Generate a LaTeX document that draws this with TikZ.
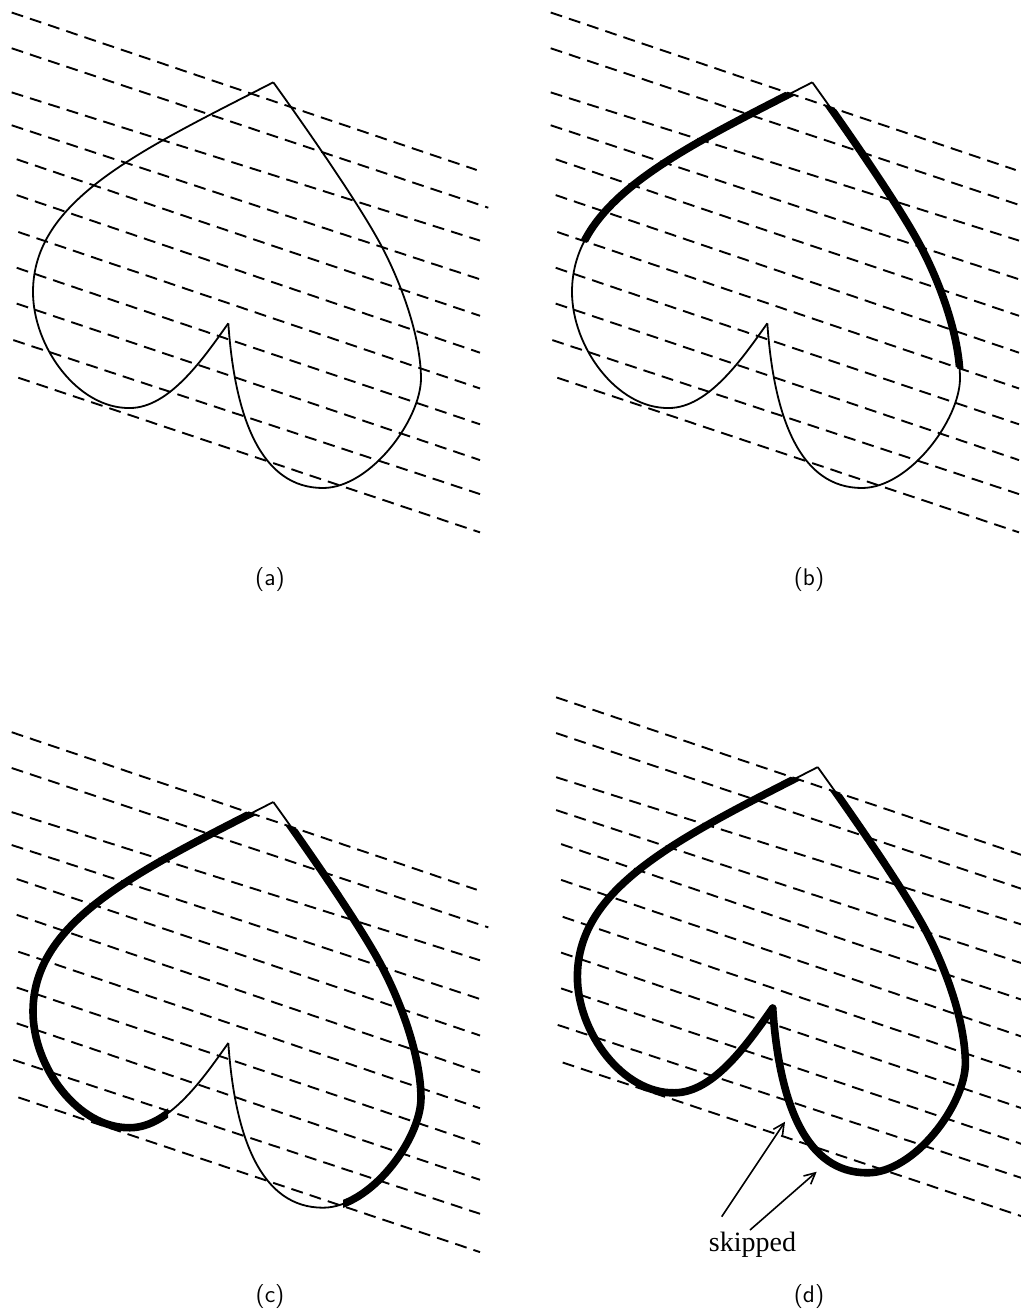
\documentclass[tikz,border=0pt]{standalone}
\usepackage{fontspec}
\newfontfamily\timesfont{Liberation Serif}
\usetikzlibrary{arrows.meta}
\tikzset{
  hatch/.style={line width=0.95pt, dash pattern=on 6pt off 3.6pt},
  outline/.style={line width=0.9pt, line join=miter},
  bold/.style={line width=3.8pt, line cap=round, line join=round},
  lab/.style={font=\sffamily\fontsize{12}{14}\selectfont, inner sep=0pt},
  pointer/.style={line width=0.8pt, -{Straight Barb[length=5.5pt,width=5.5pt]}},
}
\def\heartA{(273.3,82.3) .. controls (139.5,151) and (33,200) .. (33,292) .. controls (33,347) and (78,409) .. (130,408) .. controls (170,408) and (205,356) .. (228.3,323.3)}
\def\heartB{(228.3,323.3) .. controls (235,420) and (262,488) .. (323,488) .. controls (370,488) and (421,420) .. (421,378) .. controls (420.5,335) and (400.6,282.4) .. (382,247) .. controls (358.8,202.7) and (296.7,114.7) .. (273.3,82.3)}
% clip regions (panel coordinates)
\def\bandb{(-100,-25.4) -- (600,211.8) -- (600,429.2) -- (-100,191.9) -- cycle}
\def\belowone{(-100,-25.4) -- (600,211.8) -- (600,700) -- (-100,700) -- cycle}
\def\regcA{(-100,-25.4) -- (600,211.8) -- (600,260) -- (168,260) -- (168,700) -- (-100,700) -- cycle}
\def\regcB{(-100,-25.4) -- (600,211.8) -- (600,700) -- (343,700) -- (343,300) -- (-100,300) -- cycle}
\newcommand\hpanel{%
  \draw[hatch] (11.7,12.5) -- (476.7,170);
  \draw[hatch] (11.7,48.3) -- (488.3,207.7);
  \draw[hatch] (11.7,92.4) -- (480,240.6);
  \draw[hatch] (11.7,125.3) -- (480,279.3);
  \draw[hatch] (16.7,159.3) -- (480,315.8);
  \draw[hatch] (16.7,195.1) -- (480,352.7);
  \draw[hatch] (18.3,232) -- (480,388.5);
  \draw[hatch] (16.7,267.8) -- (480,424.3);
  \draw[hatch] (16.7,303.6) -- (480,460.1);
  \draw[hatch] (13.3,340.1) -- (480,494.1);
  \draw[hatch] (18.3,377.7) -- (480,532.4);
  \draw[outline] \heartA;
  \draw[outline] \heartB;
}
\begin{document}
\begin{tikzpicture}[x=0.5pt, y=-0.5pt]
\clip (0,0) rectangle (1021,1316);
% (a)
\begin{scope}
  \hpanel
\end{scope}
% (b)
\begin{scope}[shift={(539,0)}]
  \hpanel
  \begin{scope}
    \clip \bandb;
    \draw[bold] \heartA;
    \draw[bold] \heartB;
  \end{scope}
\end{scope}
% (c)
\begin{scope}[shift={(0,719.7)}]
  \hpanel
  \begin{scope}
    \clip \regcA;
    \draw[bold] \heartA;
  \end{scope}
  \begin{scope}
    \clip \regcB;
    \draw[bold] \heartB;
  \end{scope}
\end{scope}
% (d)
\begin{scope}[shift={(544.4,684.8)}]
  \hpanel
  \begin{scope}
    \clip \belowone;
    \draw[bold] \heartA;
    \draw[bold] \heartB;
  \end{scope}
\end{scope}
% labels
\node[lab] (la) at (270,580) {(a)};
\node[lab] (lb) at (809,580) {(b)};
\node[lab] (lc) at (270,1296) {(c)};
\node[lab] (ld) at (809,1296) {(d)};
% skipped annotation
\node[font=\timesfont\fontsize{14}{16}\selectfont, inner sep=0pt, anchor=base] (sk) at (752.5,1251.7) {skipped};
\coordinate (t1) at (721.7,1216.7);
\coordinate (h1) at (785,1121.7);
\coordinate (t2) at (750,1230);
\coordinate (h2) at (816.7,1171.7);
\draw[pointer] (t1) -- (h1);
\draw[pointer] (t2) -- (h2);
\end{tikzpicture}
\end{document}
